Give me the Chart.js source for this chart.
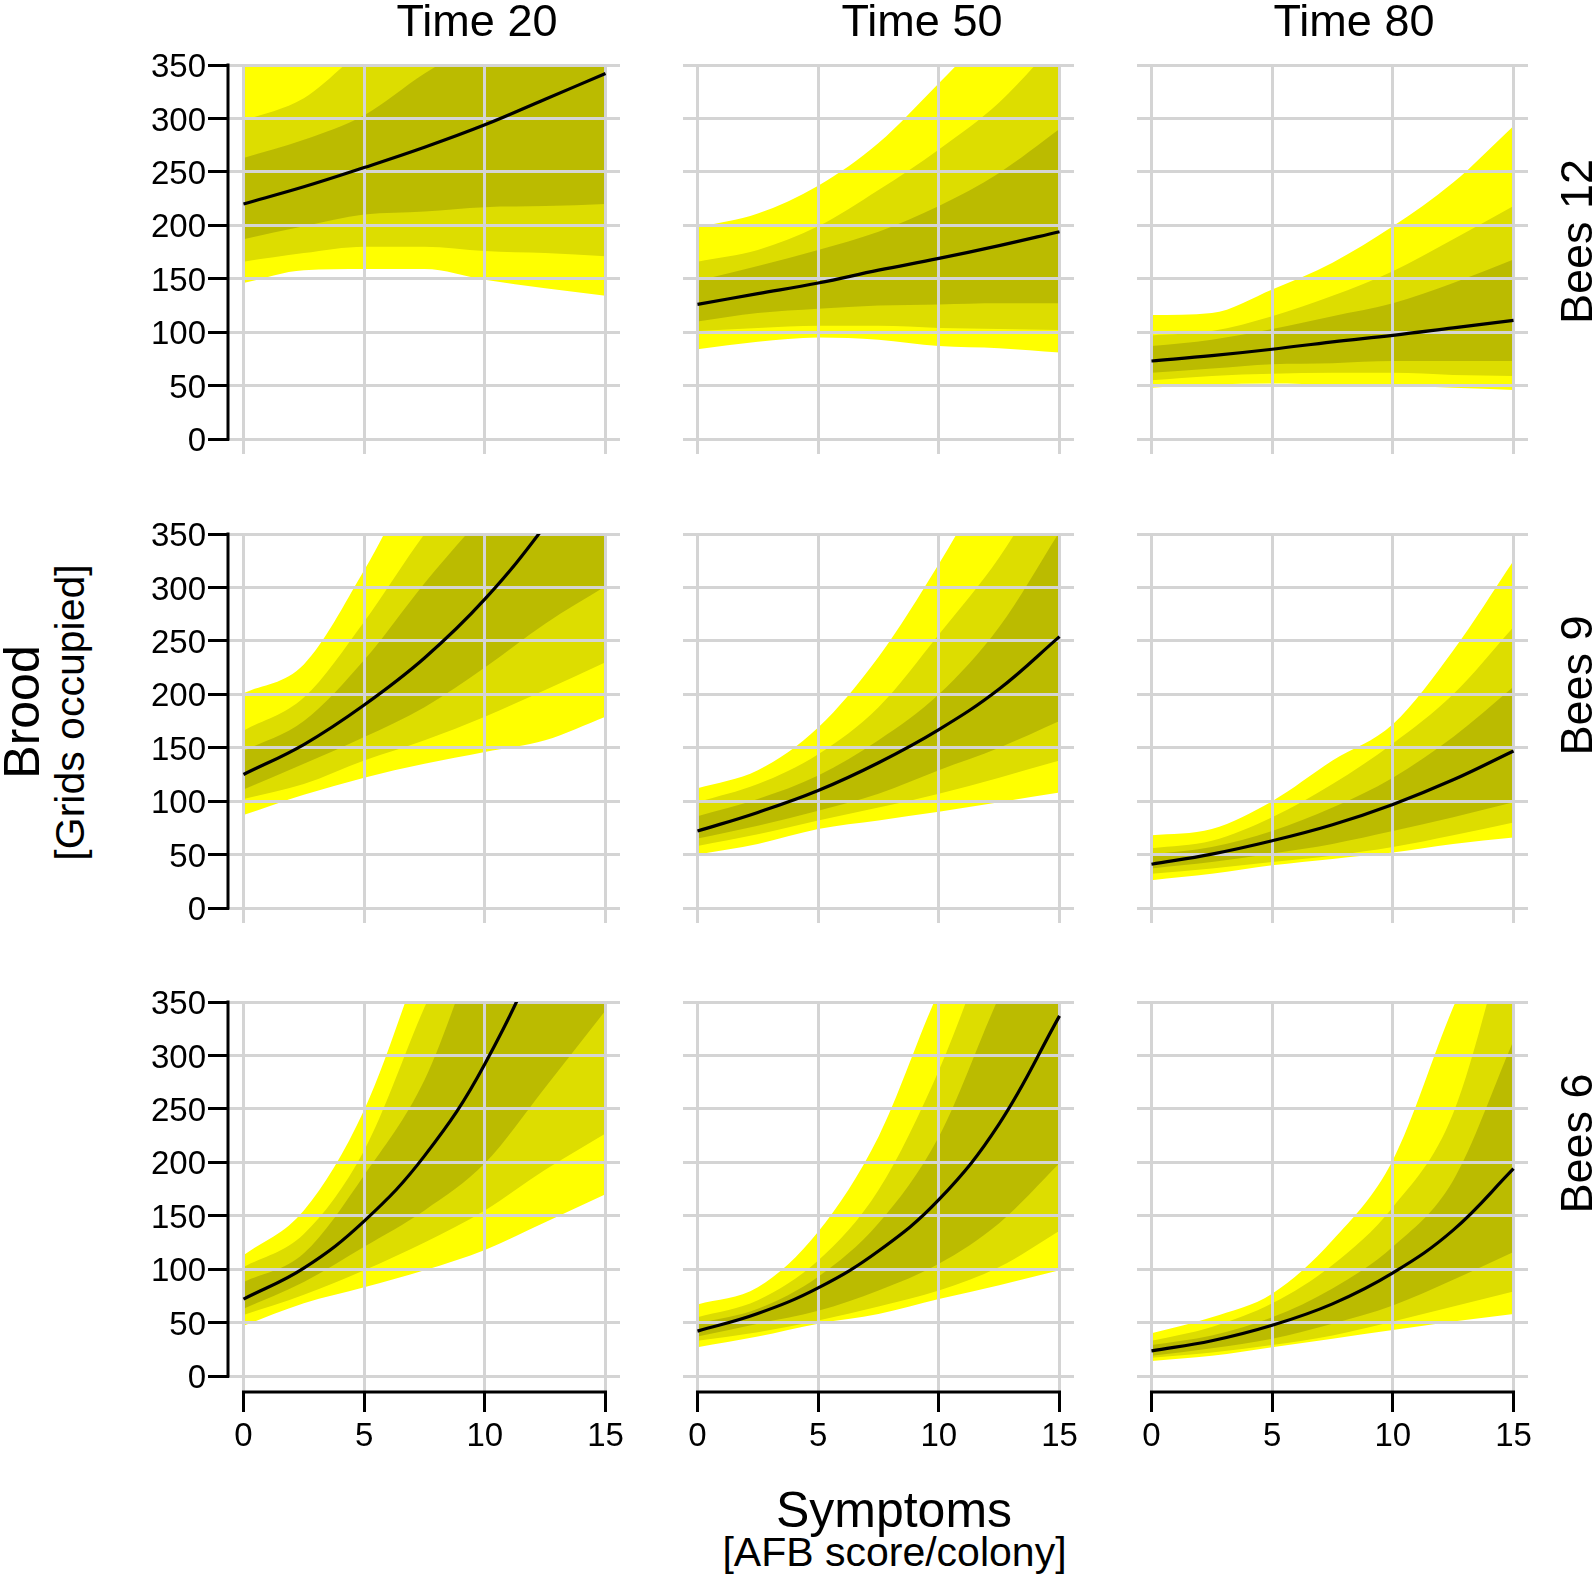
<!DOCTYPE html>
<html><head><meta charset="utf-8">
<script src="https://cdn.jsdelivr.net/npm/chart.js@4.4.1/dist/chart.umd.min.js"></script>
<style>
html,body{margin:0;padding:0;background:#fff;}
body{width:1595px;height:1579px;position:relative;overflow:hidden;font-family:'Liberation Sans',Arial,sans-serif;color:#000;}
.lbl{position:absolute;white-space:nowrap;text-align:center;line-height:1;}
canvas{position:absolute;}
</style></head><body>
<script>
// ---------- data ----------
const timeLabels = ['Time 20', 'Time 50', 'Time 80'];
const beesLabels = ['Bees 12', 'Bees 9', 'Bees 6'];
const xValues = [0, 2.5, 5, 7.5, 10, 12.5, 15];
const xTicks = [0, 5, 10, 15];
const yTicks = [0, 50, 100, 150, 200, 250, 300, 350];
// panels in row order: Bees 12 (Time 20, 50, 80), Bees 9 (...), Bees 6 (...)
const median = [
  [220, 236, 254, 273, 294, 318, 342],
  [126, 136, 146, 158, 169, 181, 194],
  [73, 78, 84, 91, 97, 104, 111],
  [125, 153, 190, 234, 289, 358, 440],
  [72, 89.5, 110, 136, 167, 205, 254],
  [41, 50.5, 63, 78, 97, 120, 147],
  [72, 101, 145, 206, 292, 415, 590],
  [42, 58.5, 82.5, 117, 165, 236, 337],
  [23.5, 33, 47.5, 67.5, 96.5, 136.5, 194]
];
const upper95 = [
  [380, 420, 470, 520, 570, 620, 680],
  [198, 211, 237, 277, 333, 390, 440],
  [116, 118, 140, 165, 199, 240, 293],
  [201, 228, 316, 420, 500, 580, 660],
  [112, 129, 169, 235, 322, 420, 520],
  [68, 74, 100, 138, 172, 241, 325],
  [113, 155, 249, 400, 550, 700, 850],
  [67, 83, 135, 224, 360, 470, 600],
  [40, 55, 77, 127, 202, 345, 470]
];
const upper80 = [
  [298, 319, 365, 400, 440, 480, 520],
  [166, 177, 199, 233, 271, 315, 375],
  [97, 101, 115, 134, 157, 187, 218],
  [166, 197, 268, 350, 420, 500, 580],
  [99, 116, 144, 188, 256, 328, 420],
  [56, 63, 85, 116, 154, 200, 263],
  [102, 133, 211, 345, 470, 620, 780],
  [55, 71, 108, 174, 286, 430, 550],
  [33, 46, 68, 104, 158, 246, 440]
];
const upper50 = [
  [263, 280, 303, 342, 375, 405, 440],
  [148, 162, 177, 194, 218, 249, 290],
  [87, 93, 103, 115, 127, 146, 168],
  [147, 175, 232, 304, 370, 440, 520],
  [86, 102, 124, 157, 200, 263, 352],
  [50, 57, 72, 94, 122, 160, 207],
  [88, 115, 188, 277, 420, 520, 620],
  [49, 63, 93, 143, 224, 355, 470],
  [29, 38, 55, 82, 121, 183, 314]
];
const lower50 = [
  [187, 199, 210, 213, 217, 218, 220],
  [110, 118, 122, 125, 126, 127, 127],
  [62, 66, 70, 71, 73, 73, 73],
  [111, 135, 160, 188, 225, 266, 301],
  [65, 77, 91, 107, 129, 150, 175],
  [37, 43, 51, 60, 72, 85, 99],
  [63, 88, 121, 155, 199, 270, 342],
  [37, 49, 61, 80, 105, 143, 199],
  [19, 26, 35, 49, 66, 90, 116]
];
const lower80 = [
  [166, 174, 180, 180, 176, 174, 171],
  [101, 104, 106, 106, 104, 103, 102],
  [55, 59, 61, 62, 62, 60, 59],
  [102, 116, 138, 157, 179, 204, 230],
  [58, 69, 82, 94, 107, 122, 138],
  [32, 37, 43, 49, 57, 68, 80],
  [57, 76, 99, 125, 155, 193, 227],
  [33, 41, 52, 65, 80, 102, 136],
  [17, 22, 29, 38, 51, 65, 79]
];
const lower95 = [
  [146, 158, 159, 159, 149, 141, 134],
  [84, 91, 95, 93, 87, 85, 81],
  [48, 51, 52, 51, 50, 48, 46],
  [87, 106, 122, 135, 146, 157, 179],
  [50, 60, 74, 82, 90, 99, 108],
  [26, 32, 40, 46, 52, 60, 66],
  [47, 68, 83, 99, 118, 144, 170],
  [27, 37, 49, 58, 72, 85, 99],
  [14, 19, 27, 35, 43, 51, 58]
];

// ---------- layout / style ----------
const FONT = "'Liberation Sans', Arial, sans-serif";
const colLeft = [229, 683, 1137];   // chart-area left edges
const rowTop = [65, 534, 1002];     // chart-area top edges
const AREA_W = 391, AREA_H = 389;
const PAD_L = 130, PAD_T = 30, PAD_R = 15, PAD_B = 75;
const GRID = '#d4d4d4';
const C95 = '#ffff00', C80 = '#dddd00', C50 = '#bbbb00';

const axisLines = {
  id: 'axisLines',
  afterDraw(chart, args, opts) {
    const ctx = chart.ctx, a = chart.chartArea;
    ctx.save();
    ctx.strokeStyle = '#000';
    ctx.lineWidth = 3;
    ctx.lineCap = 'square';
    if (opts.y) {
      const ys = chart.scales.y;
      ctx.beginPath();
      ctx.moveTo(a.left - 1, ys.getPixelForValue(yTicks[0]));
      ctx.lineTo(a.left - 1, ys.getPixelForValue(yTicks[yTicks.length - 1]));
      ctx.stroke();
    }
    if (opts.x) {
      const xs = chart.scales.x;
      ctx.beginPath();
      ctx.moveTo(xs.getPixelForValue(xTicks[0]), a.bottom + 1);
      ctx.lineTo(xs.getPixelForValue(xTicks[xTicks.length - 1]), a.bottom + 1);
      ctx.stroke();
    }
    ctx.restore();
  }
};

function pts(arr) { return arr.map((v, i) => ({ x: xValues[i], y: v })); }
const NONE = 'rgba(0,0,0,0)';

function makePanel(r, c) {
  const p = r * 3 + c;
  const isLeft = c === 0, isBottom = r === 2;
  const cv = document.createElement('canvas');
  const W = PAD_L + AREA_W + PAD_R, H = PAD_T + AREA_H + PAD_B;
  cv.width = W; cv.height = H;
  cv.style.left = (colLeft[c] - PAD_L) + 'px';
  cv.style.top = (rowTop[r] - PAD_T) + 'px';
  cv.style.width = W + 'px'; cv.style.height = H + 'px';
  document.body.appendChild(cv);
  new Chart(cv, {
    type: 'line',
    data: {
      datasets: [
        { label: 'Median', data: pts(median[p]), borderColor: '#000', borderWidth: 3.2, fill: false,
          cubicInterpolationMode: 'default', tension: 0.4 },
        { label: 'Upper 50%', data: pts(upper50[p]), borderColor: NONE, borderWidth: 1, backgroundColor: C50, fill: '+1' },
        { label: 'Lower 50%', data: pts(lower50[p]), borderColor: NONE, borderWidth: 1, fill: false },
        { label: 'Upper 80%', data: pts(upper80[p]), borderColor: NONE, borderWidth: 1, backgroundColor: C80, fill: '+1' },
        { label: 'Lower 80%', data: pts(lower80[p]), borderColor: NONE, borderWidth: 1, fill: false },
        { label: 'Upper 95%', data: pts(upper95[p]), borderColor: NONE, borderWidth: 1, backgroundColor: C95, fill: '+1' },
        { label: 'Lower 95%', data: pts(lower95[p]), borderColor: NONE, borderWidth: 1, fill: false }
      ]
    },
    options: {
      responsive: false,
      animation: false,
      devicePixelRatio: 1,
      events: [],
      layout: { padding: { left: 0, top: PAD_T, right: PAD_R, bottom: 0 } },
      elements: {
        point: { radius: 0, hoverRadius: 0 },
        line: { cubicInterpolationMode: 'monotone', capBezierPoints: false, borderJoinStyle: 'round' }
      },
      plugins: {
        legend: { display: false },
        tooltip: { enabled: false },
        filler: { drawTime: 'beforeDraw' },
        axisLines: { x: isBottom, y: isLeft }
      },
      scales: {
        x: {
          type: 'linear', min: -0.6, max: 15.6,
          afterBuildTicks: s => { s.ticks = xTicks.map(v => ({ value: v })); },
          afterFit: s => { s.height = PAD_B; s.paddingLeft = 0; s.paddingRight = 0; },
          border: { display: false },
          grid: { color: GRID, lineWidth: 3, drawTicks: isBottom, tickLength: 21, tickColor: '#000', tickWidth: 3 },
          ticks: { display: isBottom, color: '#000', font: { family: FONT, size: 33 }, padding: 5, maxRotation: 0, autoSkip: false,
                   callback: v => String(v) }
        },
        y: {
          type: 'linear', min: -14, max: 350,
          afterBuildTicks: s => { s.ticks = yTicks.map(v => ({ value: v })); },
          afterFit: s => { s.width = PAD_L; s.paddingTop = 0; s.paddingBottom = 0; },
          border: { display: false },
          grid: { color: GRID, lineWidth: 3, drawTicks: isLeft, tickLength: 21, tickColor: '#000', tickWidth: 3 },
          ticks: { display: isLeft, color: '#000', font: { family: FONT, size: 33 }, padding: 2, labelOffset: 3, autoSkip: false,
                   callback: v => String(v) }
        }
      }
    },
    plugins: [axisLines]
  });
}

for (let r = 0; r < 3; r++) for (let c = 0; c < 3; c++) makePanel(r, c);

// ---------- text labels ----------
function addLabel(text, size, cx, baseline, rotated) {
  const d = document.createElement('div');
  d.className = 'lbl';
  d.textContent = text;
  d.style.fontSize = size + 'px';
  d.style.height = size + 'px';
  const w = 700;
  d.style.width = w + 'px';
  if (!rotated) {
    d.style.left = (cx - w / 2) + 'px';
    d.style.top = (baseline - 0.8465 * size) + 'px';
  } else {
    // baseline is an x position; cx here is the vertical centre (y)
    const centerX = baseline - 0.3465 * size;
    d.style.left = (centerX - w / 2) + 'px';
    d.style.top = (cx - size / 2) + 'px';
    d.style.transform = 'rotate(-90deg)';
  }
  document.body.appendChild(d);
}
const titleCx = [477, 922, 1354];
timeLabels.forEach((t, i) => addLabel(t, 45, titleCx[i], 36, false));
const beesCy = [241, 685, 1143];
beesLabels.forEach((t, i) => addLabel(t, 45, beesCy[i], 1592, true));
addLabel('Brood', 50, 712, 39.5, true);
addLabel('[Grids occupied]', 41, 712, 84.5, true);
addLabel('Symptoms', 50, 894, 1527, false);
addLabel('[AFB score/colony]', 41, 894.5, 1567, false);
</script>
</body></html>
